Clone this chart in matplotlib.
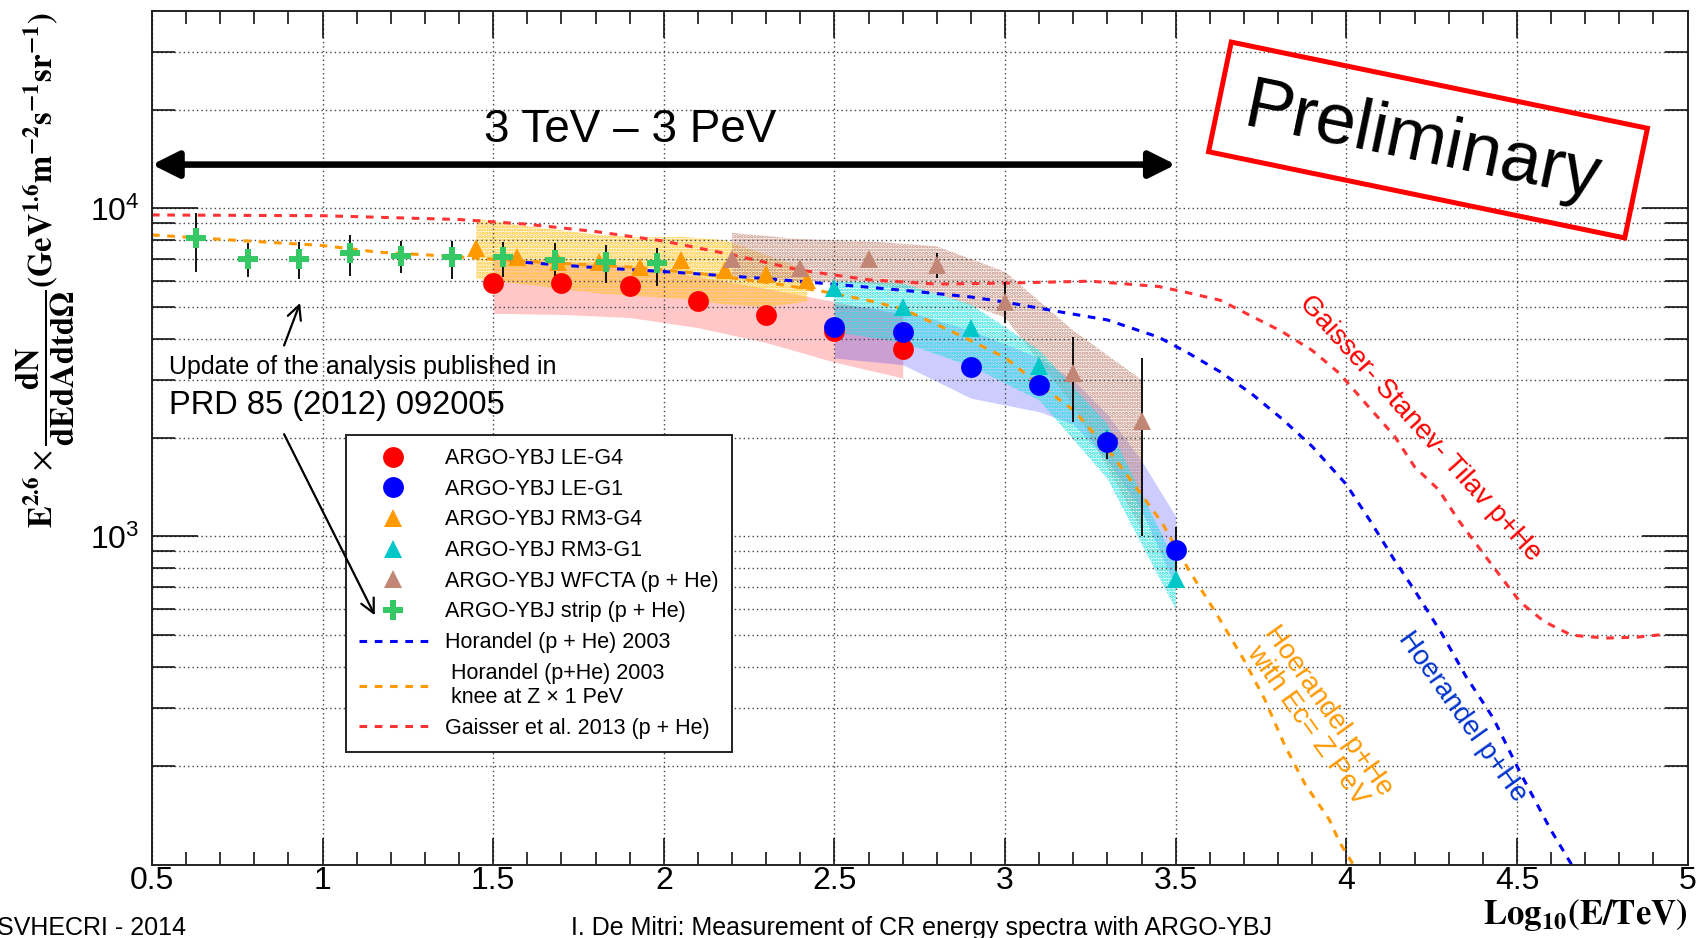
import matplotlib
matplotlib.use("Agg")
import matplotlib.pyplot as plt
from matplotlib.patches import Rectangle
from matplotlib.lines import Line2D
from matplotlib.ticker import FixedLocator, MultipleLocator, NullFormatter, FixedFormatter

plt.rcParams['font.family'] = ['Liberation Sans', 'DejaVu Sans']
plt.rcParams['mathtext.fontset'] = 'stix'
plt.rcParams['hatch.linewidth'] = 1.6

# ---------------------------------------------------------------
# data (log10(E/TeV), E^2.6 x flux)
# ---------------------------------------------------------------
# ARGO-YBJ LE-G4
x_leg4 = [1.5, 1.7, 1.9, 2.1, 2.3, 2.5, 2.7]
y_leg4 = [5920, 5920, 5820, 5220, 4720, 4240, 3730]
band_leg4_lo = [4790, 4750, 4650, 4330, 3900, 3400, 3040]
band_leg4_hi = [7100, 6900, 6700, 6200, 5700, 5200, 4750]

# ARGO-YBJ LE-G1
x_leg1 = [2.5, 2.7, 2.9, 3.1, 3.3, 3.5]
y_leg1 = [4350, 4200, 3280, 2900, 1940, 910]
err_leg1_hi = [4350, 4200, 3280, 2900, 2110, 1065]
err_leg1_lo = [4350, 4200, 3280, 2900, 1720, 783]
x_band_leg1 = [2.5, 2.7, 2.9, 3.1, 3.2, 3.3, 3.4, 3.5]
band_leg1_lo = [3500, 3340, 2640, 2400, 2200, 1700, 1200, 700]
band_leg1_hi = [5100, 4900, 4250, 3500, 3000, 2350, 1700, 1150]

# ARGO-YBJ RM3-G4
x_rm4 = [1.45, 1.57, 1.69, 1.81, 1.93, 2.05, 2.18, 2.30, 2.42]
y_rm4 = [7600, 7100, 6850, 6850, 6650, 6950, 6500, 6330, 6050]
band_rm4_lo = [6100, 5900, 5700, 5500, 5400, 5300, 5100, 5000, 5200]
band_rm4_hi = [9300, 8900, 8600, 8300, 8150, 8200, 8000, 7200, 6500]

# ARGO-YBJ RM3-G1
x_rm1 = [2.5, 2.7, 2.9, 3.1, 3.3, 3.5]
y_rm1 = [5700, 4990, 4330, 3300, 2000, 740]
band_rm1_lo = [4200, 3900, 3300, 2600, 1500, 600]
band_rm1_hi = [6000, 5900, 5100, 3700, 2200, 830]

# ARGO-YBJ WFCTA (p + He)
x_wfcta = [2.2, 2.4, 2.6, 2.8, 3.0, 3.2, 3.4]
y_wfcta = [6990, 6600, 7020, 6700, 5200, 3150, 2250]
err_wfcta_hi = [6990, 6600, 7020, 7320, 5970, 4060, 3500]
err_wfcta_lo = [6990, 6600, 7020, 6120, 4470, 2230, 1000]
band_wfcta_lo = [6200, 6000, 5900, 5500, 4650, 2500, 1050]
band_wfcta_hi = [8420, 8060, 7940, 7660, 6410, 4240, 3000]

# ARGO-YBJ strip (p + He)
x_strip = [0.63, 0.78, 0.93, 1.08, 1.23, 1.38, 1.53, 1.68, 1.83, 1.98]
y_strip = [8110, 7030, 7030, 7310, 7160, 7100, 7100, 6950, 6880, 6800]
err_strip_hi = [9660, 7820, 7900, 8320, 7940, 7940, 7900, 7830, 7740, 7590]
err_strip_lo = [6380, 6170, 6100, 6220, 6370, 6100, 6170, 6120, 5920, 5810]

# models
x_hor = [1.55, 1.8, 2.0, 2.3, 2.5, 2.7, 2.9, 3.0, 3.15, 3.3, 3.45, 3.54, 3.63, 3.72,
         3.81, 3.9, 4.0, 4.07, 4.14, 4.2, 4.28, 4.35, 4.43, 4.51, 4.6, 4.66]
y_hor = [6900, 6600, 6420, 6110, 5870, 5630, 5370, 5180, 4860, 4570, 4050, 3607, 3177, 2735,
         2290, 1880, 1440, 1115, 850, 685, 505, 375, 280, 190, 127, 100]

x_hor_knee = [0.5, 0.8, 1.0, 1.16, 1.36, 1.5, 1.7, 1.92, 2.1, 2.3, 2.46, 2.6, 2.7, 2.86, 3.0,
              3.1, 3.2, 3.3, 3.38, 3.46, 3.54, 3.62, 3.7, 3.76, 3.82, 3.88, 3.95, 3.98, 4.02]
y_hor_knee = [8300, 7930, 7710, 7360, 7160, 7000, 6800, 6610, 6340, 5950, 5600, 5240, 4940, 4140, 3510,
              2900, 2430, 1850, 1430, 1100, 785, 580, 420, 320, 230, 175, 137, 117, 100]

x_gst = [0.5, 1.0, 1.4, 1.6, 1.8, 2.0, 2.2, 2.4, 2.6, 2.8, 3.0, 3.25, 3.45, 3.53, 3.63, 3.73,
         3.81, 3.9, 3.98, 4.06, 4.14, 4.2, 4.27, 4.33, 4.39, 4.45, 4.51, 4.58, 4.66, 4.76, 4.85, 4.94]
y_gst = [9550, 9500, 9250, 8950, 8500, 7950, 7220, 6480, 6060, 5880, 5920, 6000, 5780, 5550, 5250, 4650,
         4220, 3690, 3140, 2520, 2030, 1630, 1390, 1115, 920, 760, 630, 550, 500, 490, 493, 504]

c_red = '#ff0000'
c_blue = '#0000ff'
c_orange = '#ff9900'
c_cyan = '#00c8c8'
c_brown = '#c28676'
c_green = '#36c864'

fig = plt.figure(figsize=(17.05, 9.38), dpi=100)
ax = fig.add_axes([152 / 1705, 1 - 864.5 / 938, 1535.6 / 1705, 853.6 / 938])
ax.set_yscale('log')
ax.set_xlim(0.5, 5)
ax.set_ylim(100, 4e4)

# systematic bands
ax.fill_between(x_leg4, band_leg4_lo, band_leg4_hi, color=c_red, alpha=0.22, lw=0, zorder=1)
ax.fill_between(x_band_leg1, band_leg1_lo, band_leg1_hi, color=c_blue, alpha=0.2, lw=0, zorder=1)
ax.fill_between(x_rm4, band_rm4_lo, band_rm4_hi, facecolor='none', edgecolor='#ffc21a',
                hatch='.....', lw=0, zorder=1.1)
ax.fill_between(x_wfcta, band_wfcta_lo, band_wfcta_hi, facecolor='none', edgecolor='#c48a7a',
                hatch='.....', lw=0, zorder=1.1)
ax.fill_between(x_rm1, band_rm1_lo, band_rm1_hi, facecolor='none', edgecolor='#1ee0e0',
                hatch='.....', lw=0, zorder=1.1)

# model curves
ax.plot(x_hor, y_hor, color=c_blue, lw=2.2, ls=(0, (2.5, 2.5)), zorder=2)
ax.plot(x_hor_knee, y_hor_knee, color=c_orange, lw=2.2, ls=(0, (2.5, 2.5)), zorder=2)
ax.plot(x_gst, y_gst, color='#ff3333', lw=2.2, ls=(0, (2.5, 2.5)), zorder=2)

# data points
ebkw = dict(ecolor='black', elinewidth=1.3, capsize=3, capthick=1.3, ls='none', mew=0)
ax.errorbar(x_strip, y_strip,
            yerr=[[v - l for v, l in zip(y_strip, err_strip_lo)], [h - v for v, h in zip(y_strip, err_strip_hi)]],
            marker='P', ms=14, color=c_green, zorder=4, **ebkw)
ax.plot(x_leg4, y_leg4, 'o', ms=15, color=c_red, mew=0, zorder=4)
ax.errorbar(x_leg1, y_leg1,
            yerr=[[v - l for v, l in zip(y_leg1, err_leg1_lo)], [h - v for v, h in zip(y_leg1, err_leg1_hi)]],
            marker='o', ms=15, color=c_blue, zorder=4, **ebkw)
ax.plot(x_rm4, y_rm4, '^', ms=12.5, color=c_orange, mew=0, zorder=4)
ax.plot(x_rm1, y_rm1, '^', ms=12.5, color=c_cyan, mew=0, zorder=4)
ax.errorbar(x_wfcta, y_wfcta,
            yerr=[[v - l for v, l in zip(y_wfcta, err_wfcta_lo)], [h - v for v, h in zip(y_wfcta, err_wfcta_hi)]],
            marker='^', ms=12.5, color=c_brown, zorder=4, **ebkw)

# axes styling
ax.xaxis.set_minor_locator(MultipleLocator(0.1))
ax.set_xticks([0.5, 1, 1.5, 2, 2.5, 3, 3.5, 4, 4.5, 5])
ax.set_xticklabels(['0.5', '1', '1.5', '2', '2.5', '3', '3.5', '4', '4.5', '5'])
ax.yaxis.set_major_locator(FixedLocator([1e3, 1e4]))
ax.yaxis.set_major_formatter(FixedFormatter([r'$\mathregular{10^{3}}$', r'$\mathregular{10^{4}}$']))
minor_y = [m * 10 ** e for e in (2, 3, 4) for m in range(2, 10) if m * 10 ** e < 4e4]
ax.yaxis.set_minor_locator(FixedLocator(minor_y))
ax.yaxis.set_minor_formatter(NullFormatter())

ax.tick_params(axis='x', which='major', direction='in', length=19.4, width=1.1,
               top=True, bottom=True, labelsize=23, pad=1)
ax.tick_params(axis='x', which='minor', direction='in', length=9.4, width=1.1, top=True, bottom=True)
ax.tick_params(axis='y', which='major', direction='in', length=33, width=1.1,
               left=True, right=True, labelsize=23, pad=9)
ax.tick_params(axis='y', which='minor', direction='in', length=16.6, width=1.1, left=True, right=True)
for s in ax.spines.values():
    s.set_linewidth(1.4)
    s.set_color('#222222')

ax.set_axisbelow('line')
ax.grid(True, which='major', axis='x', ls=(0, (1, 2.2)), color='#444444', lw=1.0)
ax.grid(True, which='both', axis='y', ls=(0, (1, 2.2)), color='#444444', lw=1.0)

# energy range arrow
ax.annotate('', xy=(3.5, 13600), xytext=(0.5, 13600),
            arrowprops=dict(arrowstyle='<|-|>', lw=4.7, color='black', mutation_scale=40,
                            shrinkA=0, shrinkB=0), zorder=6)
ax.text(1.9, 17300, '3 TeV \u2013 3 PeV', fontsize=33, ha='center', va='center', zorder=6)

# note on previous analysis
ax.text(0.55, 3126, 'Update of the analysis published in', fontsize=18, ha='left', va='baseline')
ax.text(0.55, 2355, 'PRD 85 (2012) 092005', fontsize=23.5, ha='left', va='baseline')
ax.annotate('', xy=(0.934, 5150), xytext=(0.887, 3820),
            arrowprops=dict(arrowstyle='->', lw=1.6, color='black', mutation_scale=25,
                            shrinkA=0, shrinkB=0))
ax.annotate('', xy=(1.153, 575), xytext=(0.887, 2050),
            arrowprops=dict(arrowstyle='->', lw=1.6, color='black', mutation_scale=25,
                            shrinkA=0, shrinkB=0), zorder=7)

# model labels
ax.text(4.215, 2140, 'Gaisser- Stanev- Tilav p+He', color=c_red, fontsize=20,
        rotation=-48, rotation_mode='anchor', ha='center', va='center')
ax.text(4.339, 282, 'Hoerandel p+He', color='#0033cc', fontsize=20,
        rotation=-54.5, rotation_mode='anchor', ha='center', va='center')
ax.text(3.915, 279, 'Hoerandel p+He\nwith Ec= Z PeV', color=c_orange, fontsize=20,
        rotation=-54.5, rotation_mode='anchor', ha='center', va='center',
        multialignment='center', linespacing=1.0)

# legend
handles = [
    Line2D([], [], ls='none', marker='o', ms=15, color=c_red, mew=0),
    Line2D([], [], ls='none', marker='o', ms=15, color=c_blue, mew=0),
    Line2D([], [], ls='none', marker='^', ms=12.5, color=c_orange, mew=0),
    Line2D([], [], ls='none', marker='^', ms=12.5, color=c_cyan, mew=0),
    Line2D([], [], ls='none', marker='^', ms=12.5, color=c_brown, mew=0),
    Line2D([], [], ls='none', marker='P', ms=14, color=c_green, mew=0),
    Line2D([], [], color=c_blue, lw=2.2, ls=(0, (2.5, 2.5))),
    Line2D([], [], color=c_orange, lw=2.2, ls=(0, (2.5, 2.5))),
    Line2D([], [], color='#ff3333', lw=2.2, ls=(0, (2.5, 2.5))),
]
labels = ['ARGO-YBJ LE-G4', 'ARGO-YBJ LE-G1', 'ARGO-YBJ RM3-G4', 'ARGO-YBJ RM3-G1',
          'ARGO-YBJ WFCTA (p + He)', 'ARGO-YBJ strip (p + He)', 'Horandel (p + He) 2003',
          ' Horandel (p+He) 2003\n knee at Z \u00d7 1 PeV', 'Gaisser et al. 2013 (p + He)']
leg = ax.legend(handles, labels, loc='upper left', bbox_to_anchor=(0.1263, 0.503),
                borderaxespad=0, fontsize=15.5, handlelength=3.2, handletextpad=0.8,
                borderpad=0.6, labelspacing=0.45, fancybox=False, framealpha=1,
                edgecolor='#222222')
leg.get_frame().set_linewidth(1.4)
leg.set_zorder(5)

# preliminary stamp
stamp = Rectangle((14.28 - 4.25 / 2, 7.98 - 1.12 / 2), 4.25, 1.12, angle=-11.7,
                  rotation_point='center', transform=fig.dpi_scale_trans,
                  fill=False, ec='red', lw=3.6)
fig.add_artist(stamp)
fig.text(1422 / 1705, 1 - 144 / 938, 'Preliminary', fontsize=52, rotation=-11.7,
         rotation_mode='anchor', ha='center', va='center')

# axis titles
fig.text(0.027, 0.712,
         r'$\mathbf{E^{2.6}}\times\dfrac{\mathbf{dN}}{\mathbf{dEdAdtd}\mathbf{\Omega}}'
         r'\mathbf{(GeV^{1.6}m^{-2}s^{-1}sr^{-1})}$',
         fontsize=23.5, rotation=90, ha='center', va='center')
fig.text(0.99, 0.0149, r'$\mathbf{Log_{10}(E/TeV)}$', fontsize=25, ha='right', va='baseline')

# footer
fig.text(-0.002, 0.003, 'SVHECRI - 2014', fontsize=18, ha='left', va='baseline')
fig.text(571 / 1705, 0.003, 'I. De Mitri: Measurement of CR energy spectra with ARGO-YBJ',
         fontsize=18, ha='left', va='baseline')

fig.savefig('out.png', dpi=100)
